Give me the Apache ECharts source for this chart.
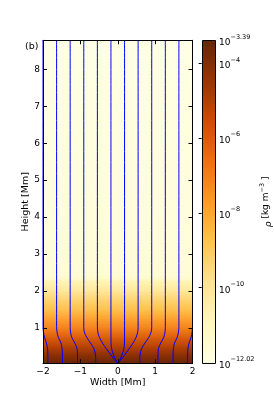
<!DOCTYPE html>
<html><head><meta charset="utf-8">
<script src="https://cdn.jsdelivr.net/npm/echarts@6/dist/echarts.min.js"></script>
<style>html,body{margin:0;padding:0;background:#fff}#c{width:274px;height:404px}</style>
</head><body><div id="c"></div>
<script>
// ---- data ----
const xTicks = [-2, -1, 0, 1, 2];
const yTicks = [1, 2, 3, 4, 5, 6, 7, 8];
const xRange = [-2, 2];
const yRange = [0.05, 8.78];
const cbarRange = [-12.02, -3.39];
const cbarTicks = [-4, -6, -8, -10];
const cbarLabels = [-12.02, -10, -8, -6, -4, -3.39];

// density (log10 rho) profile vs height [Mm]
const rhoHeights = [0.05, 0.15, 0.3, 0.5, 0.75, 1.0, 1.25, 1.5, 1.75, 2.0, 2.15, 2.27, 2.33, 2.45, 3.0, 4.0, 5.0, 6.0, 7.0, 8.78];
const logRho     = [-3.39, -3.75, -4.3, -5.1, -6.1, -7.1, -7.9, -8.7, -9.3, -10.1, -10.5, -10.8, -11.3, -11.6, -11.68, -11.75, -11.8, -11.85, -11.9, -12.02];

// magnetic field lines: x positions [Mm] at the shared heights
const fieldHeights = [0.05, 0.15, 0.3, 0.45, 0.6, 0.75, 0.9, 1.05, 1.2, 1.4, 8.78];
const fieldLinesX = [
  [-1.87, -1.87, -1.87, -1.88, -1.91, -1.96, -1.99, -2.0, -2.0, -2.0, -2.0],
  [-1.48, -1.48, -1.48, -1.49, -1.52, -1.59, -1.625, -1.636, -1.636, -1.636, -1.636],
  [-1.075, -1.075, -1.078, -1.09, -1.15, -1.23, -1.265, -1.273, -1.273, -1.273, -1.273],
  [-0.59, -0.59, -0.60, -0.64, -0.73, -0.83, -0.895, -0.909, -0.909, -0.909, -0.909],
  [-0.01, -0.09, -0.2, -0.31, -0.41, -0.49, -0.535, -0.545, -0.545, -0.545, -0.545],
  [0.0, -0.06, -0.12, -0.165, -0.18, -0.182, -0.182, -0.182, -0.182, -0.182, -0.182],
  [0.0, 0.06, 0.12, 0.165, 0.18, 0.182, 0.182, 0.182, 0.182, 0.182, 0.182],
  [0.01, 0.09, 0.2, 0.31, 0.41, 0.49, 0.535, 0.545, 0.545, 0.545, 0.545],
  [0.59, 0.59, 0.60, 0.64, 0.73, 0.83, 0.895, 0.909, 0.909, 0.909, 0.909],
  [1.075, 1.075, 1.078, 1.09, 1.15, 1.23, 1.265, 1.273, 1.273, 1.273, 1.273],
  [1.48, 1.48, 1.48, 1.49, 1.52, 1.59, 1.625, 1.636, 1.636, 1.636, 1.636],
  [1.87, 1.87, 1.87, 1.88, 1.91, 1.96, 1.99, 2.0, 2.0, 2.0, 2.0]
];

// ---- style: YlOrBr colormap ----
const cmapStops = [[255,255,229],[255,247,188],[254,227,145],[254,196,79],[254,153,41],[236,112,20],[204,76,2],[153,52,4],[102,37,6]];
function cmap(v) {
  let t = (v - cbarRange[0]) / (cbarRange[1] - cbarRange[0]);
  t = Math.max(0, Math.min(1, t));
  const f = t * (cmapStops.length - 1);
  const i = Math.min(cmapStops.length - 2, Math.floor(f));
  const r = f - i;
  const a = cmapStops[i], b = cmapStops[i + 1];
  return 'rgb(' + [0,1,2].map(k => Math.round(a[k] + (b[k] - a[k]) * r)).join(',') + ')';
}
const FONT = 'DejaVu Sans';
const minus = v => (v < 0 ? '\u2212' + String(-v) : String(v));

const bandData = rhoHeights.slice(0, -1).map((h, i) => [h, rhoHeights[i + 1], logRho[i], logRho[i + 1]]);

const chart = echarts.init(document.getElementById('c'), null, {renderer: 'canvas'});

const grids = [
  {left: 43, top: 40.3, width: 149.5, height: 323},
  {left: 201.7, top: 40.5, width: 16, height: 322.8}
];

const axisBase = {
  axisLine: {show: true, onZero: false, lineStyle: {color: '#000', width: 1}},
  axisTick: {show: true, inside: true, length: 4, lineStyle: {color: '#000', width: 1}},
  splitLine: {show: false},
  z: 10
};

const option = {
  animation: false,
  backgroundColor: '#fff',
  textStyle: {fontFamily: FONT},
  grid: grids,
  xAxis: [
    Object.assign({}, axisBase, {
      gridIndex: 0, type: 'value', min: xRange[0], max: xRange[1], interval: 1, position: 'bottom',
      axisLabel: {color: '#000', fontSize: 9, margin: 4, fontFamily: FONT, formatter: minus},
      name: 'Width [Mm]', nameLocation: 'middle', nameGap: 14, nameMoveOverlap: false,
      nameTextStyle: {color: '#000', fontSize: 9.5, fontFamily: FONT}
    }),
    Object.assign({}, axisBase, {
      gridIndex: 0, type: 'value', min: xRange[0], max: xRange[1], interval: 1, position: 'top',
      axisLabel: {show: false}
    }),
    {gridIndex: 1, type: 'value', min: 0, max: 1, show: false}
  ],
  yAxis: [
    Object.assign({}, axisBase, {
      gridIndex: 0, type: 'value', min: yRange[0], max: yRange[1], position: 'left',
      axisTick: {show: true, inside: true, length: 4, customValues: yTicks, lineStyle: {color: '#000', width: 1}},
      axisLabel: {color: '#000', fontSize: 9, margin: 3, fontFamily: FONT, customValues: yTicks},
      name: 'Height [Mm]', nameLocation: 'middle', nameGap: 12, nameRotate: 90, nameMoveOverlap: false,
      nameTextStyle: {color: '#000', fontSize: 9.5, fontFamily: FONT}
    }),
    Object.assign({}, axisBase, {
      gridIndex: 0, type: 'value', min: yRange[0], max: yRange[1], position: 'right',
      axisTick: {show: true, inside: true, length: 4, customValues: yTicks, lineStyle: {color: '#000', width: 1}},
      axisLabel: {show: false}
    }),
    {
      gridIndex: 1, type: 'value', min: cbarRange[0], max: cbarRange[1], position: 'right', z: 10,
      axisLine: {show: false},
      splitLine: {show: false},
      axisTick: {show: true, inside: true, length: 3, customValues: cbarTicks, lineStyle: {color: '#000', width: 1}},
      axisLabel: {
        show: true, margin: 4, customValues: cbarLabels, color: '#000',
        formatter: v => '{b|10}{s|' + minus(Math.round(v * 100) / 100) + '}',
        rich: {
          b: {fontSize: 9, fontFamily: FONT, color: '#000', lineHeight: 14, verticalAlign: 'bottom'},
          s: {fontSize: 6.5, fontFamily: FONT, color: '#000', lineHeight: 14, verticalAlign: 'top'}
        }
      },
      name: '{r|\u03c1} [kg m{s|\u22123} ]', nameLocation: 'middle', nameRotate: 90, nameGap: 44,
      nameTextStyle: {
        color: '#000', fontSize: 9, fontFamily: FONT,
        rich: {
          r: {fontSize: 9, fontFamily: FONT, fontStyle: 'italic', color: '#000', lineHeight: 14, verticalAlign: 'bottom'},
          s: {fontSize: 6.5, fontFamily: FONT, color: '#000', lineHeight: 14, verticalAlign: 'top'}
        }
      }
    }
  ],
  graphic: [
    {type: 'text', left: 25, top: 42, style: {text: '(b)', fontSize: 9.5, fontFamily: FONT, fill: '#000'}}
  ],
  series: [
    {
      type: 'custom', xAxisIndex: 0, yAxisIndex: 0, z: 1, clip: true,
      data: bandData,
      renderItem: function (params, api) {
        const h0 = api.value(0), h1 = api.value(1), v0 = api.value(2), v1 = api.value(3);
        const pTop = api.coord([xRange[0], h1]);
        const pBot = api.coord([xRange[1], h0]);
        return {
          type: 'rect',
          shape: {x: pTop[0], y: pTop[1] - 0.3, width: pBot[0] - pTop[0], height: pBot[1] - pTop[1] + 0.6},
          style: {fill: new echarts.graphic.LinearGradient(0, 0, 0, 1, [
            {offset: 0, color: cmap(v1)}, {offset: 1, color: cmap(v0)}
          ])}
        };
      }
    },
    {
      type: 'custom', xAxisIndex: 2, yAxisIndex: 2, z: 1,
      data: [[0, cbarRange[0], cbarRange[1]]],
      renderItem: function (params, api) {
        const pTop = api.coord([0, api.value(2)]);
        const pBot = api.coord([1, api.value(1)]);
        const n = cmapStops.length - 1;
        const stops = cmapStops.map((c, k) => ({offset: k / n, color: 'rgb(' + cmapStops[n - k].join(',') + ')'}));
        return {
          type: 'rect',
          shape: {x: Math.round(pTop[0]) + 0.5, y: Math.round(pTop[1]) + 0.5, width: Math.round(pBot[0] - pTop[0]), height: Math.round(pBot[1] - pTop[1])},
          style: {fill: new echarts.graphic.LinearGradient(0, 0, 0, 1, stops), stroke: '#000', lineWidth: 1}
        };
      }
    }
  ].concat(fieldLinesX.map(xs => ({
    type: 'line', xAxisIndex: 0, yAxisIndex: 0, z: 3,
    data: xs.map((x, i) => [x, fieldHeights[i]]),
    showSymbol: false, symbol: 'none', smooth: 0.35, clip: true,
    lineStyle: {color: '#0000ff', width: 1},
    silent: true
  })))
};
chart.setOption(option);
</script>
</body></html>
